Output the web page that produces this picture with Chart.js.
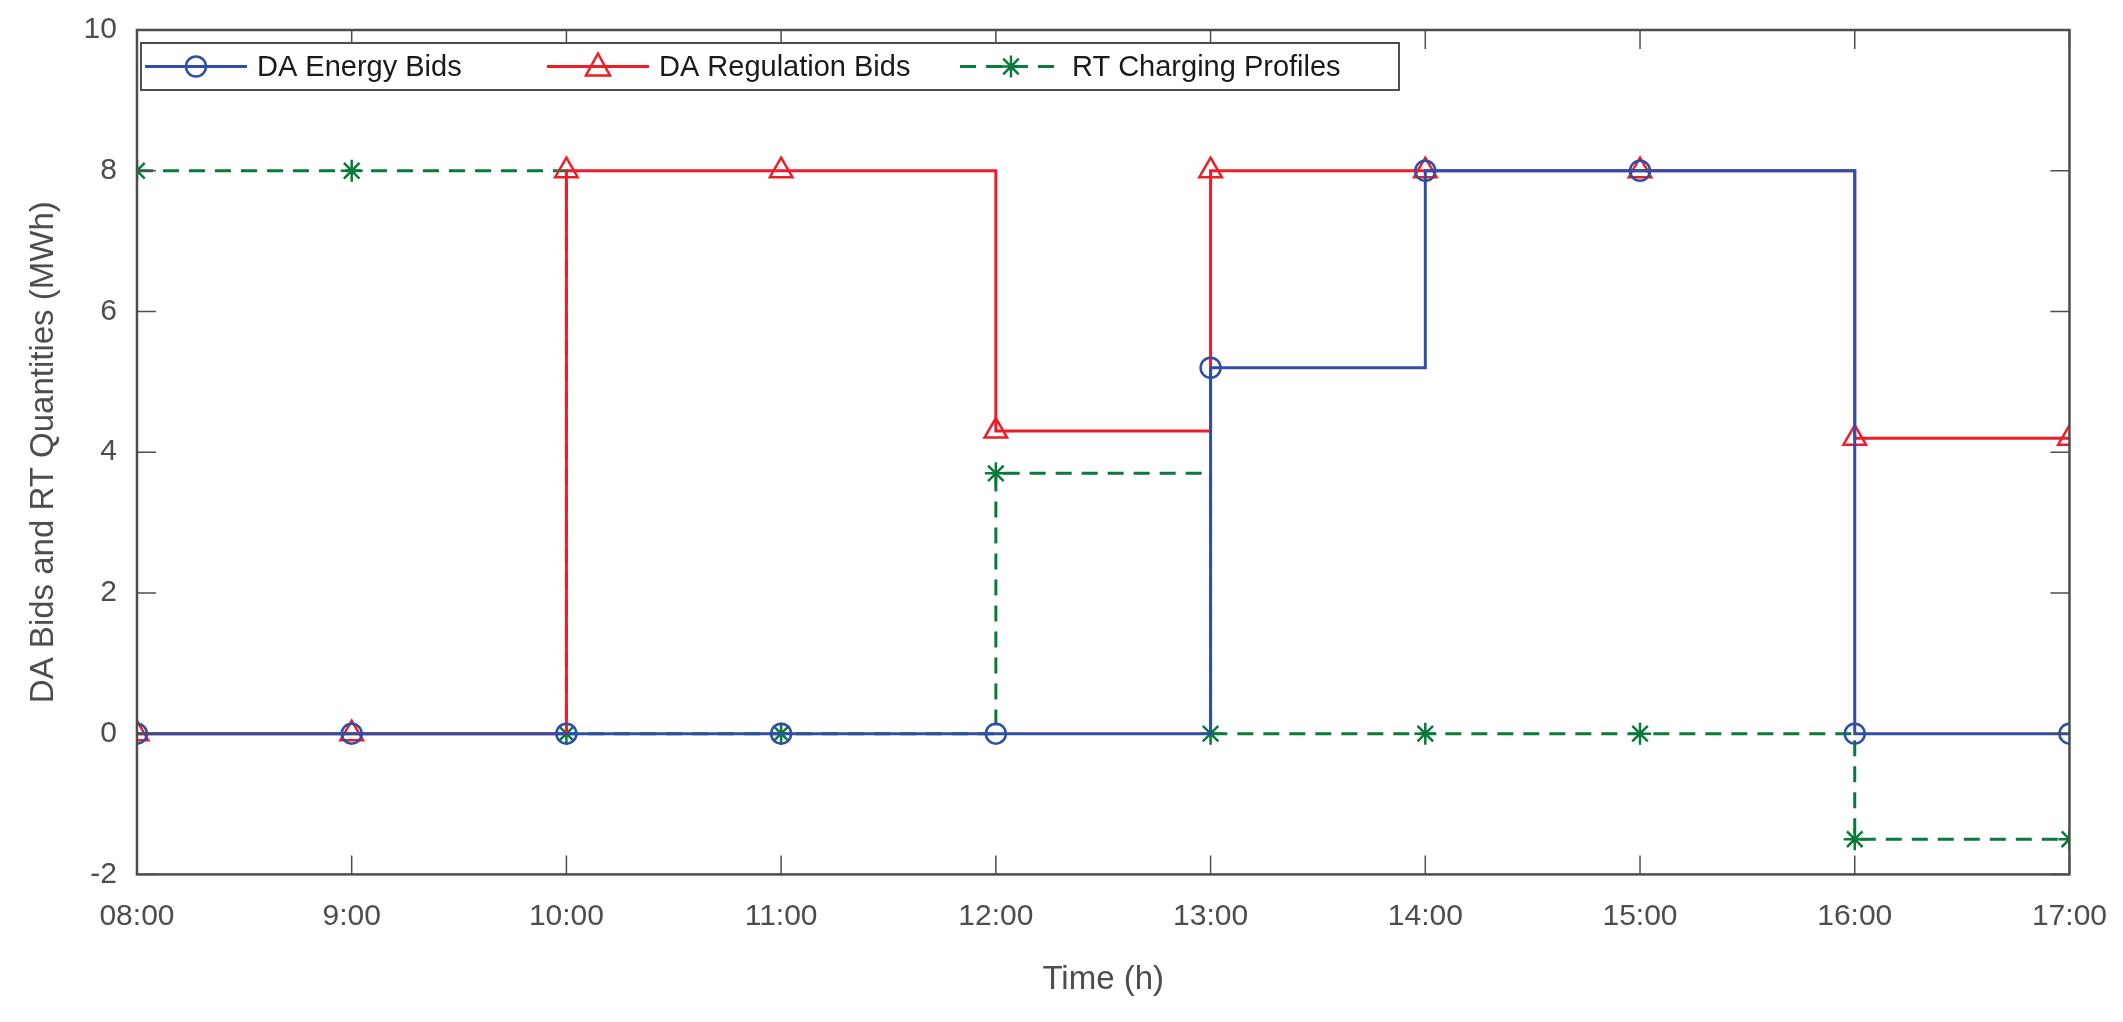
<!DOCTYPE html>
<html>
<head>
<meta charset="utf-8">
<script src="https://cdn.jsdelivr.net/npm/chart.js@4/dist/chart.umd.min.js"></script>
<style>
  body { margin: 0; background: #fff; }
</style>
</head>
<body>
<canvas id="myChart" width="2123" height="1022"></canvas>
<script>
const hours = ['08:00', '9:00', '10:00', '11:00', '12:00', '13:00', '14:00', '15:00', '16:00', '17:00'];
const energyBids = [0, 0, 0, 0, 0, 5.2, 8, 8, 0, 0];
const regulationBids = [0, 0, 8, 8, 4.3, 8, 8, 8, 4.2, 4.2];
const rtCharging = [8, 8, 0, 0, 3.7, 0, 0, 0, -1.5, -1.5];
const yTicks = [-2, 0, 2, 4, 6, 8, 10];

const FONT = "'Liberation Sans Narrow', 'Liberation Sans', Arial, sans-serif";
const AXIS = '#4d4d4d';

function pts(arr) {
    return arr.map((v, i) => ({ x: i, y: v }));
}

function drawMarker(c, style, x, y, col) {
    c.strokeStyle = col;
    c.lineWidth = 2.5;
    c.beginPath();
    if (style === 'circle') {
        c.arc(x, y, 10, 0, Math.PI * 2);
    } else if (style === 'triangle') {
        c.moveTo(x, y - 13); c.lineTo(x + 12, y + 9); c.lineTo(x - 12, y + 9); c.closePath();
    } else {
        for (let k = 0; k < 4; k++) {
            const ang = k * Math.PI / 4;
            c.moveTo(x - 11 * Math.cos(ang), y - 11 * Math.sin(ang));
            c.lineTo(x + 11 * Math.cos(ang), y + 11 * Math.sin(ang));
        }
    }
    c.stroke();
}

// frame, inward ticks and legend box, matlab style
const framePlugin = {
    id: 'frame',
    afterDraw(chart) {
        const c = chart.ctx, a = chart.chartArea;
        const xs = chart.scales.x, ys = chart.scales.y;
        c.save();
        c.strokeStyle = AXIS;
        c.lineWidth = 1.5;
        c.beginPath();
        hours.forEach((h, i) => {
            const px = xs.getPixelForValue(i);
            c.moveTo(px, a.bottom); c.lineTo(px, a.bottom - 19);
            c.moveTo(px, a.top); c.lineTo(px, a.top + 19);
        });
        yTicks.forEach(v => {
            const py = ys.getPixelForValue(v);
            c.moveTo(a.left, py); c.lineTo(a.left + 19, py);
            c.moveTo(a.right, py); c.lineTo(a.right - 19, py);
        });
        c.stroke();
        c.lineWidth = 2.5;
        c.strokeRect(a.left, a.top, a.right - a.left, a.bottom - a.top);

        // legend
        const lx = a.left + 4, ly = a.top + 13, lw = 1258, lh = 47;
        c.fillStyle = '#fff';
        c.fillRect(lx, ly, lw, lh);
        c.strokeStyle = AXIS;
        c.lineWidth = 2;
        c.strokeRect(lx, ly, lw, lh);
        const items = [
            { x: lx + 4, ds: 0 },
            { x: lx + 406, ds: 1 },
            { x: lx + 819, ds: 2 }
        ];
        c.font = '29px ' + FONT;
        c.textBaseline = 'middle';
        items.forEach(it => {
            const ds = chart.data.datasets[it.ds];
            const cy = ly + lh / 2;
            c.strokeStyle = ds.borderColor;
            c.lineWidth = 3;
            c.setLineDash(ds.borderDash || []);
            c.beginPath(); c.moveTo(it.x, cy); c.lineTo(it.x + 102, cy); c.stroke();
            c.setLineDash([]);
            drawMarker(c, ds.pointStyle, it.x + 51, cy, ds.borderColor);
            c.fillStyle = '#1a1a1a';
            c.fillText(ds.label, it.x + 112, cy + 1);
        });
        c.restore();
    }
};

const ctx = document.getElementById('myChart');
new Chart(ctx, {
    type: 'line',
    data: {
        datasets: [{
            label: 'DA Energy Bids',
            data: pts(energyBids),
            borderColor: '#2f4fa6',
            pointStyle: 'circle',
            pointRadius: 10
        }, {
            label: 'DA Regulation Bids',
            data: pts(regulationBids),
            borderColor: '#ee1c25',
            pointStyle: 'triangle',
            pointRadius: 13
        }, {
            label: 'RT Charging Profiles',
            data: pts(rtCharging),
            borderColor: '#0a7a3a',
            borderDash: [16, 10],
            pointStyle: 'star',
            pointRadius: 11
        }].map(d => Object.assign(d, {
            stepped: 'before',
            borderWidth: 3,
            pointBorderWidth: 2.5,
            pointBackgroundColor: 'rgba(0,0,0,0)',
            pointBorderColor: d.borderColor,
            fill: false
        }))
    },
    options: {
        responsive: false,
        animation: false,
        layout: { padding: { left: 20, right: 30, top: 22, bottom: 18 } },
        plugins: { legend: { display: false }, tooltip: { enabled: false } },
        scales: {
            x: {
                type: 'linear', min: 0, max: 9,
                grid: { display: false },
                border: { display: false },
                afterBuildTicks: s => { s.ticks = hours.map((h, i) => ({ value: i })); },
                ticks: {
                    callback: v => hours[v],
                    color: AXIS, font: { family: FONT, size: 30 }, padding: 16, maxRotation: 0
                },
                title: { display: true, text: 'Time (h)', color: AXIS, font: { family: FONT, size: 33 }, padding: { top: 10 } }
            },
            y: {
                min: -2, max: 10,
                grid: { display: false },
                border: { display: false },
                afterBuildTicks: s => { s.ticks = yTicks.map(v => ({ value: v })); },
                ticks: { color: AXIS, font: { family: FONT, size: 30 }, padding: 12 },
                title: { display: true, text: 'DA Bids and RT Quantities (MWh)', color: AXIS, font: { family: FONT, size: 33 }, padding: { bottom: 8 } }
            }
        }
    },
    plugins: [framePlugin]
});
</script>
</body>
</html>
